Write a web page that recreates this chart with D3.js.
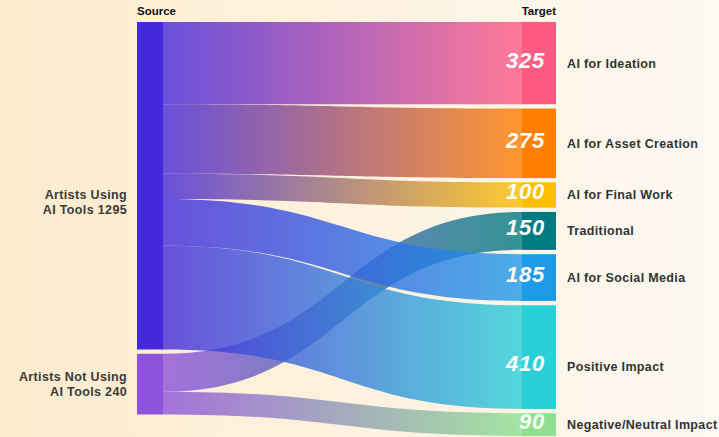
<!DOCTYPE html>
<html>
<head>
<meta charset="utf-8">
<script src="https://cdn.jsdelivr.net/npm/d3@7/dist/d3.min.js"></script>
<style>
  html, body { margin: 0; padding: 0; background: #fdf3e2; }
  svg { display: block; font-family: "Liberation Sans", Arial, sans-serif; }
</style>
</head>
<body>
<svg id="chart" width="719" height="437"></svg>
<script>
// Source column
const sourceNames = ["Artists Using AI Tools", "Artists Not Using AI Tools"];
const sourceLabelLines = [["Artists Using", "AI Tools"], ["Artists Not Using", "AI Tools"]];
const sourceColors = ["#4328dc", "#8f52dc"];

// Target column (top to bottom)
const targetNames = ["AI for Ideation", "AI for Asset Creation", "AI for Final Work",
                     "Traditional", "AI for Social Media", "Positive Impact", "Negative/Neutral Impact"];
const targetColors = ["#ff5a82", "#ff7f00", "#ffbf00", "#007b80", "#1e9be8", "#29d0d8", "#8ee08e"];

// Flows: source index -> target index, value
const linkFrom  = [0, 0, 0, 0, 0, 1, 1];
const linkTo    = [0, 1, 2, 4, 5, 3, 6];
const linkValue = [325, 275, 100, 185, 410, 150, 90];

const columnTitles = ["Source", "Target"];

// ---- layout ----
const W = 719, H = 437;
const yTop = 22, yBottom = 436, pad = 4.3;
const srcX0 = 137, srcX1 = 163, tgtX0 = 522, tgtX1 = 556;

const targetValues = targetNames.map((_, t) =>
  d3.sum(linkValue.filter((v, i) => linkTo[i] === t)));
const sourceValues = sourceNames.map((_, s) =>
  d3.sum(linkValue.filter((v, i) => linkFrom[i] === s)));
const total = d3.sum(targetValues);

const usable = (yBottom - yTop) - pad * (targetNames.length - 1);
const h = d3.scaleLinear().domain([0, total]).range([0, usable]);

function stack(values) {
  let y = yTop;
  return values.map(v => {
    const n = { y0: y, y1: y + h(v), value: v };
    y = n.y1 + pad;
    return n;
  });
}
const srcNodes = stack(sourceValues);
const tgtNodes = stack(targetValues);

// link offsets within each node, ordered by the opposite node's position
const links = linkValue.map((v, i) => ({ s: linkFrom[i], t: linkTo[i], value: v, i }));
sourceNames.forEach((_, s) => {
  let y = srcNodes[s].y0;
  links.filter(l => l.s === s).sort((a, b) => a.t - b.t).forEach(l => {
    l.sy0 = y; l.sy1 = y + h(l.value); y = l.sy1;
  });
});
targetNames.forEach((_, t) => {
  let y = tgtNodes[t].y0;
  links.filter(l => l.t === t).sort((a, b) => a.s - b.s).forEach(l => {
    l.ty0 = y; l.ty1 = y + h(l.value); y = l.ty1;
  });
});

const svg = d3.select("#chart");
const defs = svg.append("defs");

// background wash
const bg = defs.append("linearGradient").attr("id", "bg")
  .attr("x1", 0).attr("x2", 1).attr("y1", 0).attr("y2", 0);
bg.append("stop").attr("offset", "0%").attr("stop-color", "#feebcd");
bg.append("stop").attr("offset", "100%").attr("stop-color", "#fdf9f3");
svg.append("rect").attr("width", W).attr("height", H).attr("fill", "url(#bg)");

// one gradient per link, source colour to target colour
links.forEach(l => {
  const g = defs.append("linearGradient").attr("id", "lg" + l.i)
    .attr("gradientUnits", "userSpaceOnUse")
    .attr("x1", srcX1).attr("x2", tgtX0).attr("y1", 0).attr("y2", 0);
  g.append("stop").attr("offset", "0%").attr("stop-color", sourceColors[l.s]);
  g.append("stop").attr("offset", "100%").attr("stop-color", targetColors[l.t]);
});

function ribbon(l) {
  const xm = (srcX1 + tgtX0) / 2;
  return `M${srcX1},${l.sy0}C${xm},${l.sy0} ${xm},${l.ty0} ${tgtX0},${l.ty0}` +
         `L${tgtX0},${l.ty1}C${xm},${l.ty1} ${xm},${l.sy1} ${srcX1},${l.sy1}Z`;
}

// non-users' flows sit underneath
const drawOrder = links.slice().sort((a, b) => b.s - a.s || a.i - b.i);
svg.append("g").selectAll("path").data(drawOrder).join("path")
  .attr("d", ribbon)
  .attr("fill", l => `url(#lg${l.i})`)
  .attr("fill-opacity", 0.8);

// nodes
svg.append("g").selectAll("rect").data(srcNodes).join("rect")
  .attr("x", srcX0).attr("width", srcX1 - srcX0)
  .attr("y", d => d.y0).attr("height", d => d.y1 - d.y0)
  .attr("fill", (d, i) => sourceColors[i]);
svg.append("g").selectAll("rect").data(tgtNodes).join("rect")
  .attr("x", tgtX0).attr("width", tgtX1 - tgtX0)
  .attr("y", d => d.y0).attr("height", d => d.y1 - d.y0)
  .attr("fill", (d, i) => targetColors[i]);

// column titles
svg.append("text").attr("x", srcX0).attr("y", 15)
  .attr("font-size", 11.5).attr("font-weight", "bold").attr("fill", "#111")
  .text(columnTitles[0]);
svg.append("text").attr("x", tgtX1).attr("y", 15).attr("text-anchor", "end")
  .attr("font-size", 11.5).attr("font-weight", "bold").attr("fill", "#111")
  .text(columnTitles[1]);

// label nudges (px) for a few nodes
const labelShift = { "Artists Using AI Tools": 16, "Positive Impact": 9 };

// source labels, two lines, right aligned
srcNodes.forEach((n, i) => {
  const cy = (n.y0 + n.y1) / 2 + (labelShift[sourceNames[i]] || 0);
  const lines = [sourceLabelLines[i][0], sourceLabelLines[i][1] + " " + sourceValues[i]];
  const t = svg.append("text").attr("text-anchor", "end")
    .attr("font-size", 12.5).attr("font-weight", "bold").attr("fill", "#3a3a3a")
    .attr("letter-spacing", 0.35);
  lines.forEach((s, k) => t.append("tspan").attr("x", 127)
    .attr("y", cy + (k - 0.5) * 15 + 4.5).text(s));
});

// target names and values
tgtNodes.forEach((n, i) => {
  const cy = (n.y0 + n.y1) / 2 + (labelShift[targetNames[i]] || 0);
  svg.append("text").attr("x", 567).attr("y", cy + 4.5)
    .attr("font-size", 12.5).attr("font-weight", "bold").attr("fill", "#333")
    .attr("letter-spacing", 0.35)
    .text(targetNames[i]);
  svg.append("text").attr("x", 545).attr("y", cy + 4.5)
    .attr("text-anchor", "end")
    .attr("font-size", 22).attr("font-weight", "bold").attr("font-style", "italic")
    .attr("letter-spacing", 0.8)
    .attr("fill", "#fff")
    .text(n.value);
});
</script>
</body>
</html>
